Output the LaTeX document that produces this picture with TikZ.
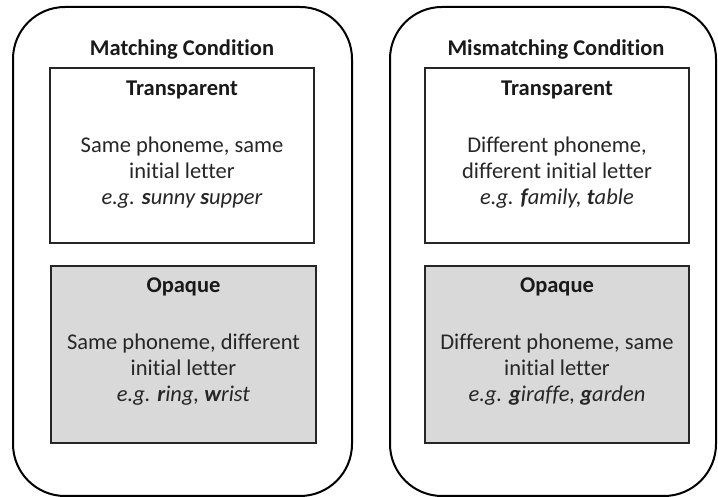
\documentclass[tikz,border=0pt]{standalone}
\usepackage{fontspec}
\setmainfont[Ligatures={NoCommon}]{Carlito}
\begin{document}
\begin{tikzpicture}[x=1pt,y=1pt,
  outerbox/.style={draw=black, line width=2pt, rounded corners=52pt, inner sep=0pt},
  transbox/.style={draw=black!85, line width=1.5pt, fill=white, inner sep=0pt},
  opaquebox/.style={draw=black!85, line width=1.5pt, fill=black!15, inner sep=0pt},
  heading/.style={font=\fontsize{22.5}{26}\selectfont\bfseries, text=black!90, inner sep=0pt},
  bodytext/.style={font=\fontsize{22.5}{26}\selectfont, text=black!85, align=center, inner sep=0pt}]
\useasboundingbox (0,0) rectangle (718,497);
% outer rounded boxes
\node[outerbox, minimum width=339pt, minimum height=489pt] (matchbox) at (182.5,245.5) {};
\node[outerbox, minimum width=326pt, minimum height=489pt] (mismatchbox) at (553,245.5) {};
% inner boxes
\node[transbox, minimum width=264pt, minimum height=175pt] (ltrans) at (182,341.5) {};
\node[opaquebox, minimum width=265pt, minimum height=177pt] (lopaque) at (183.5,142.5) {};
\node[transbox, minimum width=264pt, minimum height=175pt] (rtrans) at (557,341.5) {};
\node[opaquebox, minimum width=264pt, minimum height=177pt] (ropaque) at (557,142.5) {};
% headings
\node[heading] (lhead) at (182,447) {Matching Condition};
\node[heading] (rhead) at (556,447) {Mismatching Condition};
\node[heading] (ltranshead) at (182,407) {Transparent};
\node[heading] (rtranshead) at (557,407) {Transparent};
\node[heading] (lopaquehead) at (183.5,210) {Opaque};
\node[heading] (ropaquehead) at (557,210) {Opaque};
% body texts
\node[bodytext] (ltransbody) at (182,324) {Same phoneme, same\\initial letter\\\textit{e.g. \textbf{s}unny \textbf{s}upper}};
\node[bodytext] (rtransbody) at (557,324) {Different phoneme,\\different initial letter\\\textit{e.g. \textbf{f}amily, \textbf{t}able}};
\node[bodytext] (lopaquebody) at (183.5,127) {Same phoneme, different\\initial letter\\\textit{e.g. \textbf{r}ing, \textbf{w}rist}};
\node[bodytext] (ropaquebody) at (557,127) {Different phoneme, same\\initial letter\\\textit{e.g. \textbf{g}iraffe, \textbf{g}arden}};
\end{tikzpicture}
\end{document}
